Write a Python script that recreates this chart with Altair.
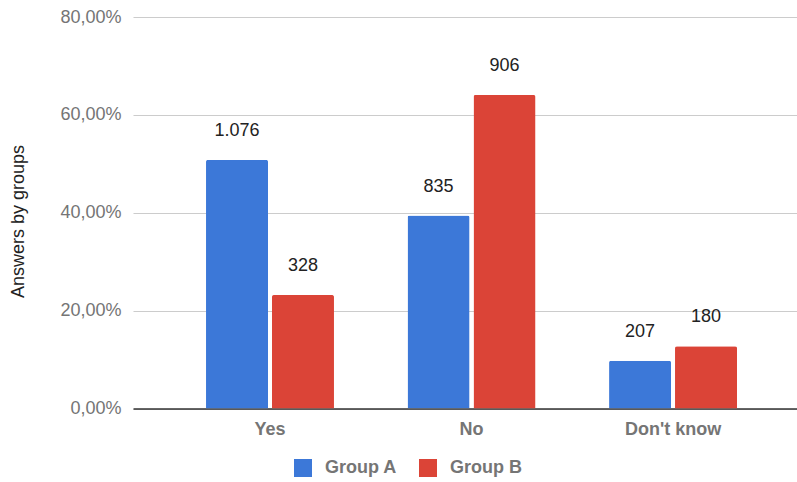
import altair as alt
import pandas as pd

# Survey answers, raw counts per group
answers = ["Yes", "No", "Don't know"]
groups = ["Group A", "Group B"]
group_a_counts = [1076, 835, 207]
group_b_counts = [328, 906, 180]
y_ticks = [0.0, 0.2, 0.4, 0.6, 0.8]
colors = ["#3c78d8", "#db4437"]

rows = []
for ans, a, b in zip(answers, group_a_counts, group_b_counts):
    rows.append({"answer": ans, "group": groups[0], "count": a})
    rows.append({"answer": ans, "group": groups[1], "count": b})
df = pd.DataFrame(rows)

FONT = "Liberation Sans"
GREY = "#757575"

base = alt.Chart(df).transform_joinaggregate(
    total="sum(count)", groupby=["group"]
).transform_calculate(
    share="datum.count / datum.total"
).encode(
    x=alt.X(
        "answer:N",
        sort=answers,
        scale=alt.Scale(paddingInner=0.365, paddingOuter=0.33, align=0.549),
        axis=alt.Axis(
            title=None, labelAngle=0, ticks=False, labelPadding=12,
            labelFontSize=18, labelFontWeight="bold", labelColor=GREY,
            labelFont=FONT, domainColor="#333333", domainWidth=1.5,
            grid=False,
        ),
    ),
    xOffset=alt.XOffset(
        "group:N", sort=groups,
        scale=alt.Scale(paddingInner=0.06, paddingOuter=0),
    ),
    y=alt.Y(
        "share:Q",
        scale=alt.Scale(domain=[0, 0.8], nice=False),
        axis=alt.Axis(
            title="Answers by groups", values=y_ticks, format=".2%",
            ticks=False, domain=False, labelPadding=12,
            labelFontSize=18, labelColor=GREY, labelFont=FONT,
            gridColor="#cccccc", gridWidth=1.2,
            titleFontSize=18, titleFontWeight="normal", titleColor="#222222",
            titleFont=FONT, titleAngle=-90, titleX=-115, titleY=204,
            titleAlign="center", titleBaseline="middle",
        ),
    ),
)

bars = base.mark_bar(cornerRadiusTopLeft=2, cornerRadiusTopRight=2).encode(
    color=alt.Color(
        "group:N", sort=groups,
        scale=alt.Scale(domain=groups, range=colors),
        legend=alt.Legend(
            title=None, orient="none", legendX=161, legendY=442,
            direction="horizontal", symbolType="square", symbolSize=324,
            symbolStrokeWidth=0, labelFontSize=18, labelFontWeight="bold",
            labelColor=GREY, labelFont=FONT, labelOffset=13,
            columnPadding=22, padding=0,
        ),
    ),
)

labels = base.mark_text(
    baseline="alphabetic", dy=-24, fontSize=18, font=FONT, color="#222222",
).encode(
    text=alt.Text("count:Q", format=",d"),
)

chart = alt.layer(bars, labels).properties(
    width=664,
    height=391.5,
    autosize="none",
    padding={"left": 133, "top": 17, "right": 0, "bottom": 73.5},
).configure(
    locale={
        "number": {
            "decimal": ",",
            "thousands": ".",
            "grouping": [3],
            "currency": ["", " €"],
        }
    }
).configure_view(stroke=None)

chart.save("out.html", embed_options={"renderer": "svg", "actions": False})
